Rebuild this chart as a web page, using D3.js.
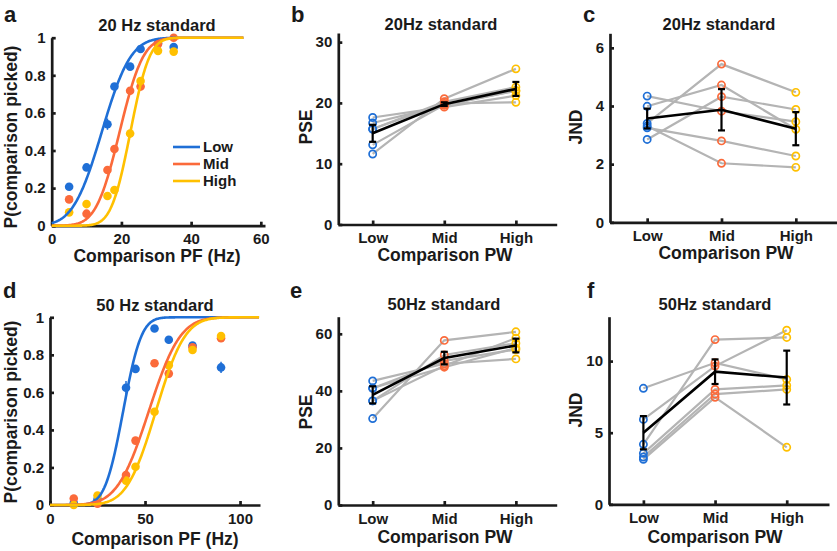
<!DOCTYPE html>
<html><head><meta charset="utf-8">
<script src="https://cdn.jsdelivr.net/npm/d3@7"></script>
<style>
body{margin:0;background:#fff}
text{font-family:"Liberation Sans",Arial,Helvetica,sans-serif;font-weight:bold;fill:#1a1a1a}
</style>
</head><body>
<svg id="chart" width="837" height="551" xmlns="http://www.w3.org/2000/svg"></svg>
<script>
// ---------------- DATA ----------------
const conditions = ["Low", "Mid", "High"];
const condColors = ["#1f6fd6", "#fb6a3a", "#ffc000"];

// Panel a: 20 Hz standard, proportion comparison picked
const aX = [5, 10, 16, 18, 22.5, 25.5, 30.5, 35];
const aLow  = [0.207, 0.31, 0.54, 0.74, 0.846, 0.94, 0.97, 0.95];
const aMid  = [0.14, 0.064, 0.296, 0.408, 0.718, 0.74, 0.966, 1.0];
const aHigh = [0.071, 0.115, 0.158, 0.19, 0.49, 0.77, 0.93, 0.926];
const aLowErr  = [0.01, 0.01, 0.03, 0.01, 0.01, 0.01, 0.01, 0.01];
const aMidErr  = [0.01, 0.01, 0.01, 0.015, 0.01, 0.01, 0.01, 0.01];
const aHighErr = [0.01, 0.01, 0.01, 0.01, 0.01, 0.02, 0.01, 0.01];
const aFitMu    = [14.4, 19.5, 22.6];
const aFitSigma = [6.5, 5.3, 4.3];
const aXTicks = [0, 20, 40, 60];

// Panel d: 50 Hz standard
const dX = [12.5, 25, 40, 45, 55, 62.5, 75, 90];
const dLow  = [0.01, 0.03, 0.625, 0.725, 0.94, 0.88, 0.85, 0.733];
const dMid  = [0.035, 0.007, 0.16, 0.343, 0.755, 0.70, 0.84, 0.888];
const dHigh = [0.0, 0.05, 0.13, 0.204, 0.497, 0.745, 0.826, 0.90];
const dLowErr  = [0.01, 0.01, 0.035, 0.015, 0.01, 0.02, 0.015, 0.03];
const dMidErr  = [0.01, 0.01, 0.01, 0.01, 0.015, 0.01, 0.01, 0.01];
const dHighErr = [0.01, 0.01, 0.01, 0.015, 0.02, 0.015, 0.01, 0.01];
const dFitMu    = [38.5, 52, 55.7];
const dFitSigma = [7.5, 13, 12];
const dXTicks = [0, 50, 100];

const pTicks = [0, 0.2, 0.4, 0.6, 0.8, 1];

// Panel b: PSE, 20 Hz standard (6 subjects)
const bLow  = [17.6, 16.7, 15.7, 15.7, 13.1, 11.6];
const bMid  = [19.3, 19.6, 19.9, 20.2, 19.7, 20.7];
const bHigh = [21.2, 22.0, 20.1, 22.6, 22.0, 25.6];
const bMean = [15.0, 19.8, 22.3];
const bErr  = [1.4, 0.3, 1.15];
const bTicks = [0, 10, 20, 30];

// Panel c: JND, 20 Hz standard
const cLow  = [4.34, 3.99, 3.40, 2.85, 3.31, 3.25];
const cMid  = [3.82, 4.72, 5.44, 4.32, 2.03, 2.80];
const cHigh = [3.46, 3.20, 4.47, 3.88, 1.89, 2.28];
const cMean = [3.57, 3.87, 3.22];
const cErr  = [0.34, 0.71, 0.57];
const cTicks = [0, 2, 4, 6];

// Panel e: PSE, 50 Hz standard
const eLow  = [43.5, 41.0, 40.9, 36.5, 36.5, 30.3];
const eMid  = [49.5, 48.3, 50.5, 52.6, 48.8, 57.7];
const eHigh = [51.2, 55.0, 54.5, 56.7, 58.5, 60.7];
const eMean = [38.6, 51.5, 55.9];
const eErr  = [3.0, 2.2, 2.4];
const eTicks = [0, 20, 40, 60];

// Panel f: JND, 50 Hz standard
const fLow  = [8.1, 5.93, 4.19, 3.56, 3.3, 3.14];
const fMid  = [9.88, 9.65, 11.5, 8.02, 7.7, 7.47];
const fHigh = [8.72, 12.16, 11.65, 8.3, 8.02, 3.98];
const fMean = [5.0, 9.26, 8.85];
const fErr  = [1.16, 0.86, 1.88];
const fTicks = [0, 5, 10];

// ---------------- HELPERS ----------------
const svg = d3.select("#chart");
const AX = "#1a1a1a";

function normCdf(z) {
  const t = 1 / (1 + 0.3275911 * Math.abs(z) / Math.SQRT2);
  const y = 1 - (((((1.061405429 * t - 1.453152027) * t) + 1.421413741) * t - 0.284496736) * t + 0.254829592) * t * Math.exp(-z * z / 2);
  return z >= 0 ? 0.5 * (1 + y) : 0.5 * (1 - y);
}

function drawAxes(g, x, y, xTicks, yTicks, xFmt, yFmt) {
  const xa = g.append("g").attr("transform", `translate(0,${y.range()[0]})`)
    .call(d3.axisBottom(x).tickValues(xTicks).tickFormat(xFmt).tickSizeInner(-4).tickSizeOuter(0).tickPadding(8));
  const ya = g.append("g").attr("transform", `translate(${x.range()[0]},0)`)
    .call(d3.axisLeft(y).tickValues(yTicks).tickFormat(yFmt).tickSizeInner(-4).tickSizeOuter(0).tickPadding(6));
  [xa, ya].forEach(a => {
    a.select(".domain").attr("stroke", AX).attr("stroke-width", 2.7);
    a.selectAll(".tick line").attr("stroke", AX).attr("stroke-width", 2.7);
    a.selectAll(".tick text").attr("fill", AX).style("font-size", "15px")
      .style("font-family", '"Liberation Sans",Arial,sans-serif').style("font-weight", "bold");
  });
}

function labels(p) {
  svg.append("text").attr("x", p.letter[0]).attr("y", p.letter[1]).style("font-size", "22px").text(p.id);
  svg.append("text").attr("x", p.title[0]).attr("y", p.title[1]).attr("text-anchor", "middle")
    .style("font-size", "16.5px").text(p.titleText);
  svg.append("text").attr("transform", `translate(${p.xlab[0]},${p.xlab[1]})`).attr("text-anchor", "middle")
    .style("font-size", "17.5px").text(p.xlabText);
  svg.append("text").attr("transform", `translate(${p.ylab[0]},${p.ylab[1]}) rotate(-90)`).attr("text-anchor", "middle")
    .style("font-size", "17.5px").text(p.ylabText);
}

function psychPanel(p, xs, series, errs, mus, sigmas, xTicks, curveMax) {
  const x = d3.scaleLinear().domain(p.xdom).range([p.left, p.right]);
  const y = d3.scaleLinear().domain([0, 1]).range([p.bottom, p.top]);
  const g = svg.append("g");
  drawAxes(g, x, y, xTicks, pTicks, d3.format("d"), v => v === 0 || v === 1 ? String(v) : d3.format(".1f")(v));
  series.forEach((vals, si) => {
    const col = condColors[si];
    vals.forEach((v, i) => {
      const e = errs[si][i];
      g.append("line").attr("x1", x(xs[i])).attr("x2", x(xs[i]))
        .attr("y1", y(v - e)).attr("y2", y(v + e)).attr("stroke", col).attr("stroke-width", 1.5);
      g.append("circle").attr("cx", x(xs[i])).attr("cy", y(v)).attr("r", 4.3).attr("fill", col);
    });
  });
  const grid = d3.range(0, curveMax + 0.001, curveMax / 300);
  mus.forEach((mu, si) => {
    const line = d3.line().x(d => x(d)).y(d => y(normCdf((d - mu) / sigmas[si])));
    g.append("path").datum(grid).attr("d", line).attr("fill", "none")
      .attr("stroke", condColors[si]).attr("stroke-width", 2.6);
  });
  labels(p);
}

function subjPanel(p, low, mid, high, mean, err, yTicks) {
  const x = d3.scaleLinear().domain(p.xdom).range([p.left, p.right]);
  const y = d3.scaleLinear().domain(p.ydom).range([p.bottom, p.top]);
  const g = svg.append("g");
  drawAxes(g, x, y, [1, 2, 3], yTicks, (d, i) => conditions[i], d3.format("d"));
  const subj = low.map((v, i) => [v, mid[i], high[i]]);
  const line = d3.line().x((d, i) => x(i + 1)).y(d => y(d));
  subj.forEach(s => g.append("path").datum(s).attr("d", line).attr("fill", "none")
    .attr("stroke", "#b4b4b4").attr("stroke-width", 2.2));
  subj.forEach(s => s.forEach((v, ci) => g.append("circle").attr("cx", x(ci + 1)).attr("cy", y(v))
    .attr("r", 3.6).attr("fill", "none").attr("stroke", condColors[ci]).attr("stroke-width", 1.7)));
  g.append("path").datum(mean).attr("d", line).attr("fill", "none").attr("stroke", "#000").attr("stroke-width", 2.6);
  mean.forEach((m, i) => {
    const cx = x(i + 1), lo = y(m - err[i]), hi = y(m + err[i]);
    g.append("line").attr("x1", cx).attr("x2", cx).attr("y1", lo).attr("y2", hi).attr("stroke", "#000").attr("stroke-width", 2.2);
    [lo, hi].forEach(yy => g.append("line").attr("x1", cx - 3.5).attr("x2", cx + 3.5).attr("y1", yy).attr("y2", yy)
      .attr("stroke", "#000").attr("stroke-width", 2.2));
  });
  labels(p);
}

// ---------------- PANELS ----------------
psychPanel({id: "a", left: 51.7, right: 265, bottom: 225.7, top: 37.7, xdom: [0, 61.2],
  letter: [4, 22], title: [157, 30.5], titleText: "20 Hz standard",
  xlab: [157, 262], xlabText: "Comparison PF (Hz)", ylab: [17, 137], ylabText: "P(comparison picked)"},
  aX, [aLow, aMid, aHigh], [aLowErr, aMidErr, aHighErr], aFitMu, aFitSigma, aXTicks, 55);

const legY = [147, 164, 181];
conditions.forEach((c, i) => {
  svg.append("line").attr("x1", 173).attr("x2", 200).attr("y1", legY[i]).attr("y2", legY[i])
    .attr("stroke", condColors[i]).attr("stroke-width", 2.6);
  svg.append("text").attr("x", 203).attr("y", legY[i]).attr("dy", "0.36em").style("font-size", "15px").text(c);
});

psychPanel({id: "d", left: 50, right: 260, bottom: 505, top: 317.3, xdom: [0, 110.5],
  letter: [3, 298], title: [155, 310.5], titleText: "50 Hz standard",
  xlab: [155, 545], xlabText: "Comparison PF (Hz)", ylab: [17, 412], ylabText: "P(comparison picked)"},
  dX, [dLow, dMid, dHigh], [dLowErr, dMidErr, dHighErr], dFitMu, dFitSigma, dXTicks, 110);

subjPanel({id: "b", left: 338.3, right: 556.7, bottom: 224.5, top: 33, xdom: [0.52, 3.57], ydom: [0, 31.5],
  letter: [291, 22], title: [441, 30], titleText: "20Hz standard",
  xlab: [445, 261], xlabText: "Comparison PW", ylab: [312, 127], ylabText: "PSE"},
  bLow, bMid, bHigh, bMean, bErr, bTicks);

subjPanel({id: "c", left: 610, right: 836.7, bottom: 222.3, top: 33.3, xdom: [0.5, 3.55], ydom: [0, 6.5],
  letter: [583, 22], title: [719, 30], titleText: "20Hz standard",
  xlab: [726, 259], xlabText: "Comparison PW", ylab: [582, 127], ylabText: "JND"},
  cLow, cMid, cHigh, cMean, cErr, cTicks);

subjPanel({id: "e", left: 338.3, right: 556.7, bottom: 505, top: 316.7, xdom: [0.52, 3.57], ydom: [0, 66],
  letter: [290, 298], title: [444, 310], titleText: "50Hz standard",
  xlab: [445, 543], xlabText: "Comparison PW", ylab: [312, 412], ylabText: "PSE"},
  eLow, eMid, eHigh, eMean, eErr, eTicks);

subjPanel({id: "f", left: 609, right: 829, bottom: 504.3, top: 316.7, xdom: [0.52, 3.59], ydom: [0, 13.1],
  letter: [587, 298], title: [715, 310], titleText: "50Hz standard",
  xlab: [715, 543], xlabText: "Comparison PW", ylab: [582, 410], ylabText: "JND"},
  fLow, fMid, fHigh, fMean, fErr, fTicks);
</script>
</body></html>
